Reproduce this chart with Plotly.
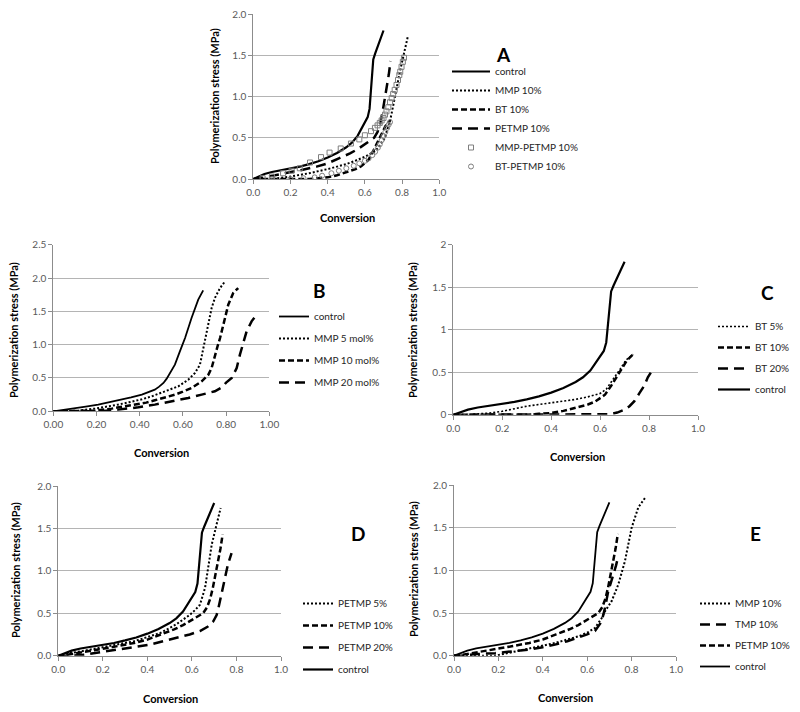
import plotly.graph_objects as go

# ---------------- data ----------------
# shared control curve (panels A, C, D, E)
ctrl_x = [0, 0.03, 0.06, 0.1, 0.15, 0.2, 0.25, 0.3, 0.35, 0.4, 0.45, 0.5, 0.53, 0.56, 0.58,
          0.6, 0.615, 0.625, 0.63, 0.635, 0.64, 0.645, 0.655, 0.665, 0.675, 0.685, 0.695, 0.70]
ctrl_y = [0, 0.03, 0.06, 0.085, 0.105, 0.125, 0.15, 0.18, 0.215, 0.26, 0.315, 0.385, 0.44, 0.52, 0.6,
          0.68, 0.75, 0.85, 1.0, 1.15, 1.3, 1.45, 1.52, 1.58, 1.65, 1.71, 1.77, 1.80]

# panel A only
mmp10a_x = [0, 0.1, 0.2, 0.3, 0.4, 0.5, 0.547, 0.6, 0.65, 0.67, 0.69, 0.708, 0.72, 0.735, 0.753, 0.77, 0.79, 0.81, 0.83]
mmp10a_y = [0, 0.0, 0.03, 0.07, 0.12, 0.18, 0.22, 0.27, 0.33, 0.376, 0.44, 0.5, 0.6, 0.7, 0.9, 1.1, 1.32, 1.52, 1.72]
mmp_petmp_x = [0.05, 0.1, 0.16, 0.206, 0.25, 0.305, 0.364, 0.41, 0.47, 0.525, 0.57, 0.60, 0.633, 0.654, 0.668, 0.68,
               0.69, 0.70, 0.708, 0.716, 0.726, 0.735, 0.744, 0.752, 0.76, 0.77, 0.778, 0.785, 0.79, 0.797, 0.804, 0.81]
mmp_petmp_y = [0.01, 0.03, 0.07, 0.10, 0.13, 0.2, 0.265, 0.32, 0.37, 0.43, 0.48, 0.53, 0.58, 0.62, 0.65, 0.68,
               0.71, 0.74, 0.78, 0.82, 0.87, 0.93, 0.98, 1.03, 1.08, 1.14, 1.20, 1.26, 1.30, 1.36, 1.42, 1.47]
bt_petmp_x = [0.1, 0.2, 0.27, 0.33, 0.37, 0.42, 0.46, 0.5, 0.54, 0.57, 0.6, 0.62, 0.64, 0.655, 0.67, 0.68,
              0.69, 0.70, 0.71, 0.72, 0.728, 0.735]
bt_petmp_y = [0.0, 0.0, 0.01, 0.02, 0.04, 0.07, 0.1, 0.13, 0.16, 0.19, 0.22, 0.25, 0.29, 0.33, 0.38, 0.42,
              0.47, 0.52, 0.57, 0.62, 0.66, 0.69]

# BT series (A, C)
bt5_x = [0, 0.05, 0.1, 0.15, 0.2, 0.25, 0.3, 0.35, 0.4, 0.45, 0.5, 0.55, 0.6, 0.625, 0.645, 0.665, 0.685, 0.705, 0.72, 0.735]
bt5_y = [0, 0.0, 0.01, 0.02, 0.04, 0.07, 0.1, 0.12, 0.14, 0.16, 0.18, 0.21, 0.25, 0.3, 0.38, 0.46, 0.55, 0.64, 0.68, 0.71]
bt10_x = [0, 0.1, 0.2, 0.3, 0.35, 0.4, 0.45, 0.5, 0.55, 0.58, 0.62, 0.645, 0.67, 0.69, 0.71, 0.735]
bt10_y = [0, 0, 0, 0.0, 0.01, 0.02, 0.045, 0.08, 0.12, 0.155, 0.235, 0.34, 0.46, 0.56, 0.64, 0.71]
bt20_x = [0, 0.2, 0.4, 0.6, 0.64, 0.67, 0.7, 0.72, 0.74, 0.76, 0.78, 0.795, 0.815]
bt20_y = [0, 0, 0, 0, 0.005, 0.025, 0.06, 0.1, 0.16, 0.25, 0.34, 0.44, 0.53]

# PETMP series (A, D, E)
petmp5_x = [0, 0.05, 0.1, 0.19, 0.26, 0.34, 0.4, 0.46, 0.53, 0.59, 0.615, 0.636, 0.659, 0.674, 0.689, 0.711, 0.72, 0.729]
petmp5_y = [0, 0.03, 0.05, 0.09, 0.13, 0.17, 0.22, 0.27, 0.37, 0.48, 0.54, 0.6, 0.8, 1.03, 1.31, 1.55, 1.66, 1.74]
petmp10_x = [0, 0.04, 0.08, 0.13, 0.19, 0.26, 0.34, 0.4, 0.46, 0.52, 0.56, 0.6, 0.63, 0.65, 0.668, 0.682,
             0.694, 0.706, 0.718, 0.728, 0.738]
petmp10_y = [0, 0.01, 0.03, 0.05, 0.075, 0.11, 0.15, 0.19, 0.25, 0.31, 0.36, 0.42, 0.46, 0.5, 0.57, 0.67,
             0.8, 0.95, 1.1, 1.26, 1.43]
petmp20_x = [0, 0.05, 0.11, 0.18, 0.26, 0.34, 0.41, 0.47, 0.53, 0.59, 0.636, 0.67, 0.696, 0.711, 0.719, 0.727,
             0.734, 0.742, 0.749, 0.762, 0.778]
petmp20_y = [0, 0.0, 0.01, 0.04, 0.07, 0.1, 0.13, 0.17, 0.21, 0.25, 0.29, 0.34, 0.405, 0.48, 0.56, 0.66,
             0.76, 0.86, 0.96, 1.08, 1.21]

# panel E
tmp10_x = [0, 0.03, 0.11, 0.185, 0.26, 0.335, 0.4, 0.455, 0.51, 0.56, 0.6, 0.635, 0.665, 0.68, 0.695, 0.707, 0.718, 0.73, 0.74]
tmp10_y = [0, 0.0, 0.02, 0.03, 0.05, 0.07, 0.1, 0.13, 0.17, 0.21, 0.25, 0.29, 0.4, 0.56, 0.76, 0.86, 0.95, 1.06, 1.17]
mmp10e_x = [0, 0.1, 0.185, 0.23, 0.28, 0.335, 0.4, 0.455, 0.51, 0.56, 0.6, 0.635, 0.665, 0.68, 0.71, 0.74, 0.77, 0.80, 0.83, 0.86]
mmp10e_y = [0, 0, 0.0, 0.024, 0.05, 0.082, 0.115, 0.149, 0.19, 0.227, 0.27, 0.325, 0.44, 0.52, 0.64, 0.835, 1.11, 1.5, 1.74, 1.85]

# panel B
ctrlB_x = [0, 0.05, 0.1, 0.15, 0.208, 0.26, 0.316, 0.36, 0.41, 0.44, 0.47, 0.49, 0.51, 0.525, 0.54, 0.563,
           0.586, 0.61, 0.64, 0.655, 0.671, 0.694]
ctrlB_y = [0, 0.02, 0.04, 0.07, 0.10, 0.135, 0.175, 0.21, 0.25, 0.285, 0.325, 0.37, 0.425, 0.49, 0.575, 0.70,
           0.90, 1.10, 1.40, 1.55, 1.675, 1.815]
mmpB5_x = [0, 0.05, 0.116, 0.193, 0.25, 0.30, 0.35, 0.41, 0.46, 0.50, 0.54, 0.579, 0.625, 0.656, 0.679, 0.694,
           0.706, 0.718, 0.733, 0.748, 0.772, 0.795]
mmpB5_y = [0, 0.0, 0.01, 0.04, 0.07, 0.10, 0.135, 0.18, 0.23, 0.275, 0.32, 0.375, 0.475, 0.575, 0.70, 0.95,
           1.12, 1.30, 1.55, 1.70, 1.85, 1.95]
mmpB10_x = [0, 0.1, 0.193, 0.27, 0.33, 0.378, 0.43, 0.47, 0.52, 0.563, 0.60, 0.64, 0.687, 0.718, 0.733, 0.748,
            0.76, 0.772, 0.785, 0.795, 0.81, 0.833, 0.856]
mmpB10_y = [0, 0, 0.01, 0.04, 0.07, 0.10, 0.13, 0.165, 0.205, 0.25, 0.295, 0.35, 0.45, 0.55, 0.65, 0.85,
            0.97, 1.10, 1.25, 1.40, 1.60, 1.775, 1.85]
mmpB20_x = [0, 0.15, 0.224, 0.30, 0.394, 0.47, 0.548, 0.60, 0.625, 0.687, 0.748, 0.78, 0.80, 0.826, 0.849,
            0.864, 0.88, 0.895, 0.918, 0.941]
mmpB20_y = [0, 0, 0.0, 0.025, 0.06, 0.10, 0.15, 0.18, 0.20, 0.25, 0.30, 0.36, 0.43, 0.50, 0.65,
            0.85, 1.05, 1.20, 1.35, 1.45]

y_title = "Polymerization stress (MPa)"
x_title = "Conversion"

# ---------------- styling ----------------
FONT = "Lato"
SOLID = dict(color="black", width=2.2, dash="solid")
DOT = dict(color="black", width=2, dash="2px,2px")
MDASH = dict(color="black", width=2.5, dash="6px,3px")
LDASH = dict(color="black", width=2.5, dash="10px,6px")

fig = go.Figure()

def line(ax, leg, name, x, y, style):
    fig.add_trace(go.Scatter(x=x, y=y, mode="lines", name=name, line=style,
                             xaxis="x" + ax, yaxis="y" + ax, legend=leg,
                             legendgroup=leg + name, hoverinfo="skip"))

def pts(ax, leg, name, x, y, symbol):
    fig.add_trace(go.Scatter(x=x, y=y, mode="markers", name=name,
                             marker=dict(symbol=symbol, size=5, color="#7f7f7f",
                                         line=dict(width=1, color="#7f7f7f")),
                             xaxis="x" + ax, yaxis="y" + ax, legend=leg,
                             legendgroup=leg + name, hoverinfo="skip"))

# A
line("", "legend", "control", ctrl_x, ctrl_y, SOLID)
line("", "legend", "MMP 10%", mmp10a_x, mmp10a_y, DOT)
line("", "legend", "BT 10%", bt10_x, bt10_y, MDASH)
line("", "legend", "PETMP 10%", petmp10_x, petmp10_y, LDASH)
pts("", "legend", "MMP-PETMP 10%", mmp_petmp_x, mmp_petmp_y, "square-open")
pts("", "legend", "BT-PETMP 10%", bt_petmp_x, bt_petmp_y, "circle-open")
# B
line("2", "legend2", "control", ctrlB_x, ctrlB_y, dict(color="black", width=1.8))
line("2", "legend2", "MMP 5 mol%", mmpB5_x, mmpB5_y, DOT)
line("2", "legend2", "MMP 10 mol%", mmpB10_x, mmpB10_y, MDASH)
line("2", "legend2", "MMP 20 mol%", mmpB20_x, mmpB20_y, LDASH)
# C
line("3", "legend3", "BT 5%", bt5_x, bt5_y, dict(color="black", width=1.6, dash="2px,2px"))
line("3", "legend3", "BT 10%", bt10_x, bt10_y, MDASH)
line("3", "legend3", "BT 20%", bt20_x, bt20_y, LDASH)
line("3", "legend3", "control", ctrl_x, ctrl_y, SOLID)
# D
line("4", "legend4", "PETMP 5%", petmp5_x, petmp5_y, DOT)
line("4", "legend4", "PETMP 10%", petmp10_x, petmp10_y, MDASH)
line("4", "legend4", "PETMP 20%", petmp20_x, petmp20_y, LDASH)
line("4", "legend4", "control", ctrl_x, ctrl_y, SOLID)
# E
line("5", "legend5", "MMP 10%", mmp10e_x, mmp10e_y, DOT)
line("5", "legend5", "TMP 10%", tmp10_x, tmp10_y, LDASH)
line("5", "legend5", "PETMP 10%", petmp10_x, petmp10_y, MDASH)
line("5", "legend5", "control", ctrl_x, ctrl_y, dict(color="black", width=1.8))

# the page body adds an 8px margin, so the figure is sized to fill the window exactly
W, H = 784, 696
OFF = 8
def px(x): return (x - OFF) / W
def py(y): return 1 - (y - OFF) / H

tickfont = dict(family=FONT, size=10, color="#595959")
def xax(dom, fmt):
    return dict(domain=[px(dom[0]), px(dom[1])], range=[0, 1], dtick=0.2, tick0=0, tickformat=fmt,
                showgrid=False, zeroline=False, showline=True, linecolor="#8c8c8c", linewidth=1,
                ticks="outside", ticklen=4, tickcolor="#8c8c8c", tickfont=tickfont, fixedrange=True,
                ticklabeloverflow="allow")
def yax(dom, top, fmt, xa):
    return dict(domain=[py(dom[1]), py(dom[0])], range=[0, top], dtick=0.5, tick0=0, tickformat=fmt,
                showgrid=True, gridcolor="#b4b4b4", gridwidth=1, zeroline=False, showline=True,
                linecolor="#8c8c8c", linewidth=1, ticks="outside", ticklen=4, tickcolor="#8c8c8c",
                tickfont=tickfont, anchor=xa, fixedrange=True, ticklabeloverflow="allow")

legfont = dict(family=FONT, size=10, color="#262626")
def leg(x, y, w, gap):
    return dict(x=px(x), y=py(y), xanchor="left", yanchor="top", font=legfont, itemwidth=w,
                tracegroupgap=gap, bgcolor="rgba(0,0,0,0)", borderwidth=0, itemclick=False,
                itemdoubleclick=False)

fig.update_layout(
    width=W, height=H, margin=dict(l=0, r=0, t=0, b=0, autoexpand=False),
    paper_bgcolor="white", plot_bgcolor="white", showlegend=True,
    xaxis=xax((253.3, 439.3), ".1f"), yaxis=yax((14, 179), 2, ".1f", "x"),
    xaxis2=xax((53.3, 269.3), ".2f"), yaxis2=yax((244.7, 411.3), 2.5, ".1f", "x2"),
    xaxis3=xax((453.3, 698), ".1f"), yaxis3=yax((244.7, 414.7), 2, "", "x3"),
    xaxis4=xax((58.3, 281), ".1f"), yaxis4=yax((486, 655.7), 2, ".1f", "x4"),
    xaxis5=xax((454, 676), ".1f"), yaxis5=yax((485.3, 655.7), 2, ".1f", "x5"),
    legend=leg(447, 57, 38, 0),
    legend2=leg(274, 302, 30, 3),
    legend3=leg(713, 312, 32, 2),
    legend4=leg(298, 589, 30, 3),
    legend5=leg(695, 589, 30, 2),
)
for a in ["xaxis2", "xaxis3", "xaxis4", "xaxis5"]:
    fig.layout[a].anchor = "y" + a[-1]
fig.layout.xaxis.anchor = "y"

titlefont = dict(family=FONT, size=11, color="black", weight="bold")
letterfont = dict(family=FONT, size=19, color="black", weight="bold")
annots = []
for (cx, cy, yx, yy) in [(347, 217, 215, 96), (161, 452, 13, 330), (577, 457, 412, 330),
                         (170, 698, 15, 570), (565, 697, 413, 569)]:
    annots.append(dict(text=x_title, x=px(cx), y=py(cy), xref="paper", yref="paper",
                       showarrow=False, font=titlefont, xanchor="center", yanchor="middle"))
    annots.append(dict(text=y_title, x=px(yx), y=py(yy), xref="paper", yref="paper", textangle=-90,
                       showarrow=False, font=titlefont, xanchor="center", yanchor="middle"))
for (t, cx, cy) in [("A", 503, 55), ("B", 319, 290), ("C", 767, 292), ("D", 358, 533), ("E", 755, 533)]:
    annots.append(dict(text=t, x=px(cx), y=py(cy), xref="paper", yref="paper", showarrow=False,
                       font=letterfont, xanchor="center", yanchor="middle"))
fig.update_layout(annotations=annots)

fig.write_html("out.html")
